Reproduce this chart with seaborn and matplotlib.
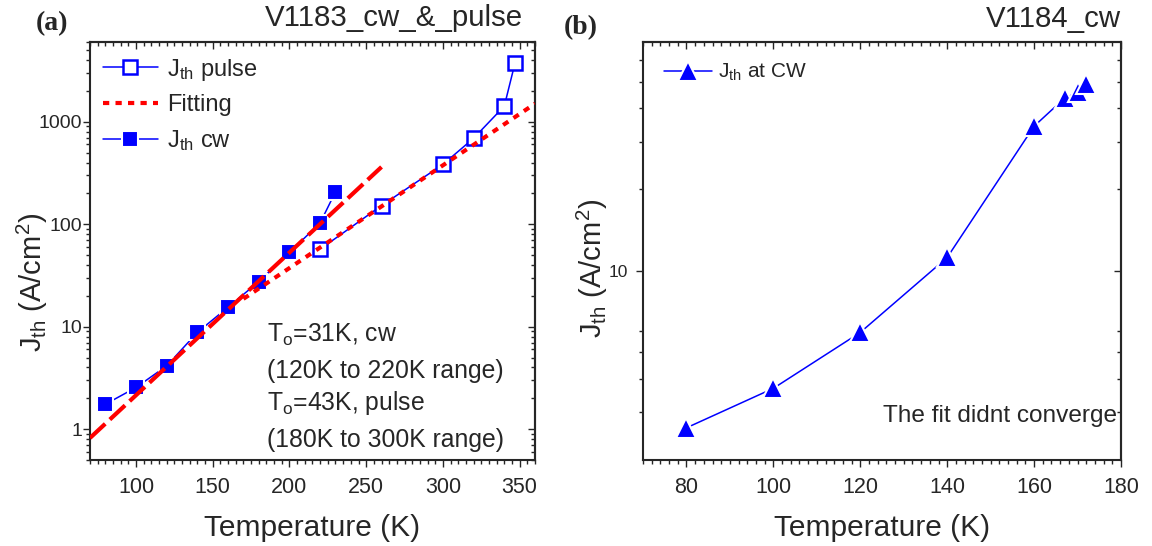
import matplotlib
matplotlib.use("Agg")
import matplotlib.pyplot as plt
import seaborn as sns
from matplotlib.ticker import MultipleLocator, LogLocator, NullFormatter, FixedLocator

# panel (a): V1183, threshold current density vs temperature
cw_temp = [80, 100, 120, 140, 160, 180, 200, 220, 230]
cw_jth = [1.75, 2.55, 4.15, 8.8, 15.5, 27.5, 53, 103, 207]
pulse_temp = [220, 260, 300, 320, 340, 347]
pulse_jth = [57, 152, 383, 690, 1420, 3750]
# exponential fits are straight on the log axis: end points
fit_cw_temp = [70, 260]
fit_cw_jth = [0.82, 362]
fit_pulse_temp = [170, 360]
fit_pulse_jth = [18.7, 1500]
a_yticks = [1, 10, 100, 1000]
a_yticklabels = ["1", "10", "100", "1000"]

# panel (b): V1184, cw only
b_temp = [80, 100, 120, 140, 160, 167, 170, 172]
b_jth = [2.63, 3.68, 5.92, 11.2, 34.2, 43.4, 45.6, 48.9]
b_yticks = [10]
b_yticklabels = ["10"]
b_yminor = [3, 4, 5, 6, 20, 30, 40, 50, 60]

sns.set_style("ticks")
plt.rcParams['font.family'] = ['Liberation Sans', 'DejaVu Sans']
plt.rcParams['mathtext.fontset'] = 'custom'
plt.rcParams['mathtext.rm'] = 'Liberation Sans'
plt.rcParams['mathtext.it'] = 'Liberation Sans:italic'
plt.rcParams['mathtext.default'] = 'regular'
plt.rcParams['axes.linewidth'] = 1.5

blue = '#0000FF'
red = '#FF0000'

fig = plt.figure(figsize=(11.52, 5.46), dpi=100)
ax1 = fig.add_axes([0.0781, 0.1575, 0.3863, 0.7656])
ax2 = fig.add_axes([0.5582, 0.1575, 0.4149, 0.7656])


def mirror_ticks(ax, xmaj, xmin, ymaj, ymin):
    # Origin style: ticks on top/right point inwards
    top = ax.secondary_xaxis('top')
    top.xaxis.set_major_locator(xmaj)
    top.xaxis.set_minor_locator(xmin)
    top.xaxis.set_major_formatter(NullFormatter())
    top.xaxis.set_minor_formatter(NullFormatter())
    top.tick_params(which='both', direction='in', width=1)
    top.tick_params(which='major', length=5)
    top.tick_params(which='minor', length=3)
    right = ax.secondary_yaxis('right')
    right.yaxis.set_major_locator(ymaj)
    right.yaxis.set_minor_locator(ymin)
    right.yaxis.set_major_formatter(NullFormatter())
    right.yaxis.set_minor_formatter(NullFormatter())
    right.tick_params(which='both', direction='in', width=1)
    right.tick_params(which='major', length=5)
    right.tick_params(which='minor', length=3)
    for sec in (top, right):
        for sp in sec.spines.values():
            sp.set_linewidth(1.5)


def base_ticks(ax, ylabsize, ypad):
    ax.tick_params(which='both', direction='out', width=1, top=False, right=False)
    ax.tick_params(which='major', length=5)
    ax.tick_params(which='minor', length=3)
    ax.tick_params(axis='x', labelsize=15.5, pad=7)
    ax.tick_params(axis='y', labelsize=ylabsize, pad=ypad)


# ---- panel (a)
sns.lineplot(x=pulse_temp, y=pulse_jth, ax=ax1, color=blue, lw=1.1, marker='s',
             ms=9.5, mfc='white', mec=blue, mew=1.8, label=r'J$_{th}$ pulse')
sns.lineplot(x=fit_pulse_temp, y=fit_pulse_jth, ax=ax1, color=red, lw=3,
             linestyle=(0, (1.5, 1.5)), label='Fitting', zorder=4)
sns.lineplot(x=fit_cw_temp, y=fit_cw_jth, ax=ax1, color=red, lw=3,
             linestyle=(0, (5, 1.5)), zorder=4)
sns.lineplot(x=cw_temp, y=cw_jth, ax=ax1, color=blue, lw=1.1, marker='s',
             ms=11, mfc=blue, mec='white', mew=1.5, label=r'J$_{th}$ cw')

ax1.set_yscale('log')
ax1.set_xlim(70, 360)
ax1.set_ylim(0.5, 6000)
ax1.xaxis.set_major_locator(MultipleLocator(50))
ax1.xaxis.set_minor_locator(MultipleLocator(5))
ax1.set_yticks(a_yticks, labels=a_yticklabels)
ax1.yaxis.set_minor_locator(LogLocator(base=10, subs=range(2, 10), numticks=20))
ax1.yaxis.set_minor_formatter(NullFormatter())
base_ticks(ax1, 14, 0.5)
mirror_ticks(ax1, MultipleLocator(50), MultipleLocator(5),
             LogLocator(base=10, numticks=20),
             LogLocator(base=10, subs=range(2, 10), numticks=20))

ax1.set_xlabel('Temperature (K)', fontsize=21.5, labelpad=12)
ax1.set_ylabel(r'J$_{th}$ (A/cm$^{2}$)', fontsize=21)
ax1.yaxis.set_label_coords(-0.09, 0.426)

handles, labels = ax1.get_legend_handles_labels()
ax1.legend(handles, labels, loc='upper left', bbox_to_anchor=(0.03, 0.965),
           frameon=False, fontsize=17, handlelength=2.3, handletextpad=0.4,
           labelspacing=0.5, borderpad=0, borderaxespad=0)

for ypos, txt in [(0.283, r'T$_o$=31K, cw'), (0.196, '(120K to 220K range)'),
                  (0.120, r'T$_o$=43K, pulse'), (0.032, '(180K to 300K range)')]:
    ax1.text(0.398, ypos, txt, transform=ax1.transAxes, fontsize=17.8, va='baseline')

# ---- panel (b)
sns.lineplot(x=b_temp, y=b_jth, ax=ax2, color=blue, lw=1.1, marker='^',
             ms=15, mfc=blue, mec='white', mew=1.5, label=r'J$_{th}$ at CW')
ax2.set_yscale('log')
ax2.set_xlim(70, 180)
ax2.set_ylim(2, 70)
ax2.xaxis.set_major_locator(MultipleLocator(20))
ax2.xaxis.set_minor_locator(MultipleLocator(2))
ax2.set_yticks(b_yticks, labels=b_yticklabels)
ax2.yaxis.set_minor_locator(FixedLocator(b_yminor))
ax2.yaxis.set_minor_formatter(NullFormatter())
base_ticks(ax2, 12.5, 6)
mirror_ticks(ax2, MultipleLocator(20), MultipleLocator(2),
             FixedLocator(b_yticks), FixedLocator(b_yminor))

ax2.set_xlabel('Temperature (K)', fontsize=21.5, labelpad=12)
ax2.set_ylabel(r'J$_{th}$ (A/cm$^{2}$)', fontsize=21)
ax2.yaxis.set_label_coords(-0.07, 0.459)

handles, labels = ax2.get_legend_handles_labels()
ax2.legend(handles, labels, loc='upper left', bbox_to_anchor=(0.043, 0.952),
           frameon=False, fontsize=15, handlelength=2.3, handletextpad=0.3,
           borderpad=0, borderaxespad=0)
ax2.text(0.9916, 0.0916, 'The fit didnt converge', transform=ax2.transAxes,
         fontsize=17.6, ha='right', va='baseline')

# panel tags and sample names
fig.text(35.7 / 1152, 1 - 30 / 546, '(a)', family='Liberation Serif', weight='bold',
         fontsize=20, va='baseline')
fig.text(523 / 1152, 1 - 26 / 546, 'V1183_cw_&_pulse', ha='right', fontsize=21.2, va='baseline')
fig.text(563.8 / 1152, 1 - 34 / 546, '(b)', family='Liberation Serif', weight='bold',
         fontsize=20, va='baseline')
fig.text(1121 / 1152, 1 - 27 / 546, 'V1184_cw', ha='right', fontsize=21.2, va='baseline')

fig.savefig('out.png', dpi=100)
